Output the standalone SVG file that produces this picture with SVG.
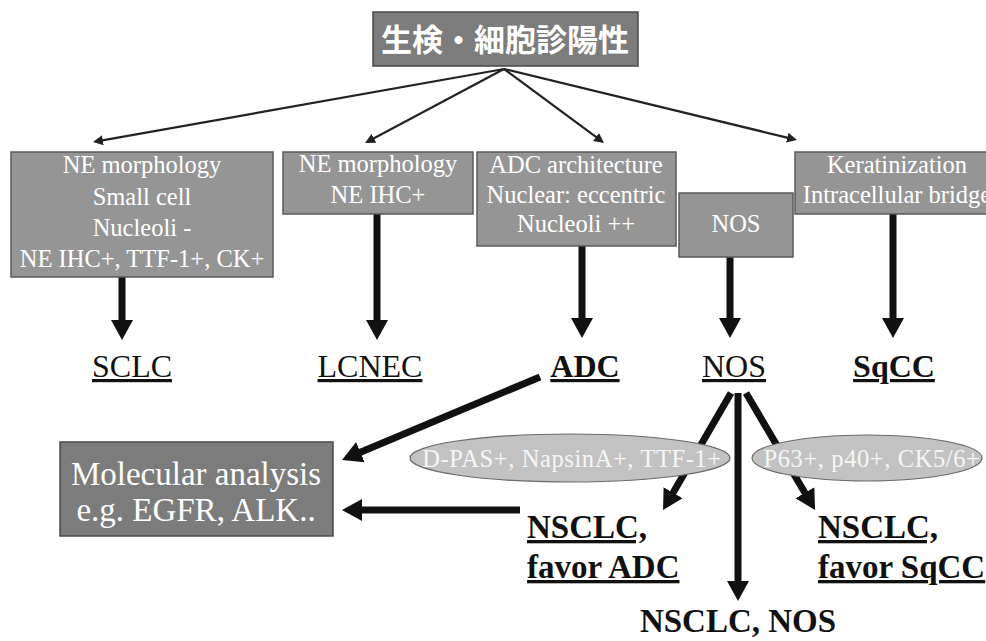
<svg xmlns="http://www.w3.org/2000/svg" width="986" height="641" viewBox="0 0 986 641">
<style>
.box{fill:#959595;stroke:#5a5a5a;stroke-width:1.5}
.dark{fill:#7c7c7c;stroke:#4a4a4a;stroke-width:1.5}
.ell{fill:#c2c2c2;stroke:#6a6a6a;stroke-width:1.2}
.bt{font-family:"Liberation Serif","Times New Roman",serif;font-size:24.5px;fill:#fff;text-anchor:middle}
.et{font-family:"Liberation Serif","Times New Roman",serif;font-size:24.5px;fill:#f6f6f6;text-anchor:middle;letter-spacing:0.6px}
.lbl{font-family:"Liberation Serif","Times New Roman",serif;font-size:32px;fill:#111;text-anchor:middle;text-decoration:underline}
.blbl{font-family:"Liberation Serif","Times New Roman",serif;font-size:33px;font-weight:bold;fill:#111;text-decoration:underline}
.thin{stroke:#222;stroke-width:2.2;fill:none;marker-end:url(#ah)}
.thick{stroke:#111;stroke-width:7;fill:none;marker-end:url(#bh)}
</style>
<defs>
<marker id="ah" markerUnits="userSpaceOnUse" markerWidth="12" markerHeight="10" viewBox="0 0 12 10" refX="2" refY="5" orient="auto"><path d="M0,0 L10,5 L0,10 z" fill="#222"/></marker>
<marker id="bh" markerUnits="userSpaceOnUse" markerWidth="22" markerHeight="24" viewBox="0 0 22 24" refX="2" refY="12" orient="auto"><path d="M0,1 L20,12 L0,23 z" fill="#111"/></marker>
</defs>
<rect width="986" height="641" fill="#fff"/>

<g id="connectors">
<line class="thin" x1="504" y1="69" x2="100.9" y2="140.6"/>
<line class="thin" x1="504" y1="69" x2="372.1" y2="139.2"/>
<line class="thin" x1="504" y1="69" x2="597.6" y2="138.2"/>
<line class="thin" x1="504" y1="69" x2="789.2" y2="138.1"/>
<line class="thick" x1="122" y1="277" x2="122" y2="322"/>
<line class="thick" x1="377" y1="214" x2="377" y2="322"/>
<line class="thick" x1="582" y1="246" x2="582" y2="320"/>
<line class="thick" x1="730" y1="257" x2="730" y2="320"/>
<line class="thick" x1="893" y1="214" x2="893" y2="320"/>
<line class="thick" x1="540" y1="377" x2="358.6" y2="453"/>
<line class="thick" x1="520" y1="510" x2="360" y2="510"/>
<line class="thick" x1="731" y1="393" x2="672.1" y2="494.4"/>
<line class="thick" x1="738" y1="393" x2="738" y2="583"/>
<line class="thick" x1="746" y1="393" x2="805.9" y2="494.5"/>
</g>

<g id="top">
<rect class="dark" x="373" y="12" width="265" height="54"/>
<text x="505" y="51" font-family="'Noto Sans CJK JP','Noto Sans CJK SC',sans-serif" font-size="31" font-weight="bold" fill="#fff" text-anchor="middle">生検・細胞診陽性</text>
</g>

<g id="box-sclc">
<rect class="box" x="11" y="152" width="262" height="125"/>
<text class="bt" x="142" y="173">NE morphology</text>
<text class="bt" x="142" y="205">Small cell</text>
<text class="bt" x="142" y="236">Nucleoli -</text>
<text class="bt" x="142" y="267">NE IHC+, TTF-1+, CK+</text>
</g>

<g id="box-lcnec">
<rect class="box" x="283" y="152" width="190" height="62"/>
<text class="bt" x="378" y="172">NE morphology</text>
<text class="bt" x="378" y="203">NE IHC+</text>
</g>

<g id="box-adc">
<rect class="box" x="477" y="152" width="199" height="94"/>
<text class="bt" x="576" y="173">ADC architecture</text>
<text class="bt" x="576" y="203">Nuclear: eccentric</text>
<text class="bt" x="576" y="232">Nucleoli ++</text>
</g>

<g id="box-nos">
<rect class="box" x="679" y="193" width="114" height="64"/>
<text class="bt" x="736" y="232">NOS</text>
</g>

<g id="box-sqcc">
<rect class="box" x="795" y="152" width="205" height="62"/>
<text class="bt" x="897" y="173">Keratinization</text>
<text class="bt" x="897" y="203">Intracellular bridge</text>
</g>

<g id="lbl-sclc"><text class="lbl" x="132" y="377">SCLC</text></g>
<g id="lbl-lcnec"><text class="lbl" x="370" y="377">LCNEC</text></g>
<g id="lbl-adc"><text class="lbl" x="585" y="377" font-weight="bold">ADC</text></g>
<g id="lbl-nos"><text class="lbl" x="734" y="377">NOS</text></g>
<g id="lbl-sqcc"><text class="lbl" x="894" y="377" font-weight="bold">SqCC</text></g>

<g id="molecular">
<rect class="dark" x="60" y="442" width="273" height="94"/>
<text x="196" y="485" font-family="'Liberation Serif','Times New Roman',serif" font-size="33" fill="#fff" text-anchor="middle">Molecular analysis</text>
<text x="196" y="521" font-family="'Liberation Serif','Times New Roman',serif" font-size="33" fill="#fff" text-anchor="middle">e.g. EGFR, ALK..</text>
</g>

<g id="ihc-adc">
<ellipse class="ell" cx="570" cy="458" rx="160" ry="24"/>
<text class="et" x="572" y="467">D-PAS+, NapsinA+, TTF-1+</text>
</g>

<g id="ihc-sqcc">
<ellipse class="ell" cx="867" cy="458" rx="115" ry="23"/>
<text class="et" x="872" y="467">P63+, p40+, CK5/6+</text>
</g>

<g id="nsclc-adc">
<text class="blbl" x="527" y="538">NSCLC,</text>
<text class="blbl" x="527" y="578">favor ADC</text>
</g>

<g id="nsclc-sqcc">
<text class="blbl" x="818" y="538">NSCLC,</text>
<text class="blbl" x="818" y="578">favor SqCC</text>
</g>

<g id="nsclc-nos">
<text x="738" y="632" font-family="'Liberation Serif','Times New Roman',serif" font-size="33" font-weight="bold" fill="#111" text-anchor="middle">NSCLC, NOS</text>
</g>
</svg>
